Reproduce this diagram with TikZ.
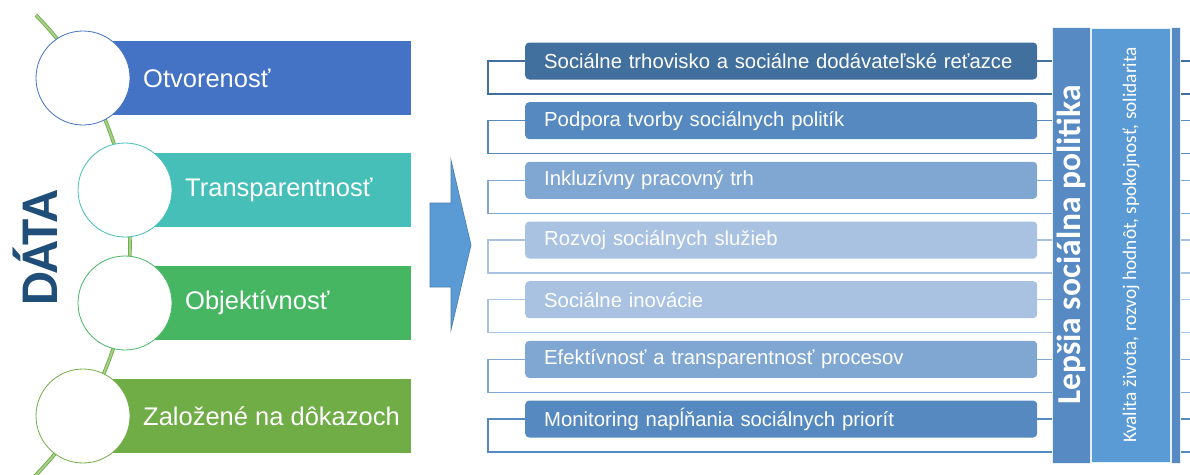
\documentclass[tikz,border=0pt]{standalone}
\usepackage{fontspec}
\setmainfont{Liberation Sans}
\newfontfamily\calibri{Carlito}
\definecolor{barblue}{HTML}{4472C4}
\definecolor{barteal}{HTML}{45BFB8}
\definecolor{bargreen}{HTML}{47B663}
\definecolor{barolive}{HTML}{70AD47}
\definecolor{datablue}{HTML}{1F4E79}
\definecolor{arrowblue}{HTML}{5B9BD5}
\definecolor{tone1}{HTML}{42709E}
\definecolor{tone2}{HTML}{5589BF}
\definecolor{tone3}{HTML}{80A6D2}
\definecolor{tone4}{HTML}{A9C2E2}
\definecolor{panelblue}{HTML}{5789C2}
\definecolor{wavegreen}{HTML}{A9D18E}
\tikzset{
  bar/.style={anchor=west, minimum height=74pt, inner sep=0pt},
  dot/.style={circle, fill=white, minimum size=94pt, inner sep=0pt, line width=0.8pt},
  bartext/.style={anchor=west, text=white, inner sep=0pt, font=\fontsize{25.5}{30}\selectfont},
  item/.style={rounded corners=4pt, anchor=west, minimum height=37pt, text width=474pt,
    inner xsep=19pt, align=left, text=white, font=\fontsize{20.3}{24}\selectfont},
  panel/.style={rotate=90, draw=white!85!arrowblue, line width=0.8pt, inner sep=0pt, text=white},
}
\begin{document}
\begin{tikzpicture}[x=1pt, y=-1pt]
\useasboundingbox (0,0) rectangle (1190,474);

\draw[line width=0.9pt, barolive, double=wavegreen, double distance=1.8pt]
  (-198,245) ++(-44.5:328) arc[start angle=-44.5, end angle=46, radius=328];

\foreach \n/\cx/\cy/\c/\t in {1/83/78/barblue/Otvorenosť, 2/125/190/barteal/Transparentnosť,
  3/125/303/bargreen/Objektívnosť, 4/83/416/barolive/Založené na dôkazoch} {
  \node[bar, fill=\c, minimum width={(411-\cx)*1pt}] (bar\n) at (\cx,\cy) {};
  \node[dot, draw=\c] (dot\n) at (\cx,\cy) {};
  \node[bartext] (lab\n) at (\cx+60,\cy) {\t};
}

\node[rotate=90, text=datablue, font=\calibri\bfseries\fontsize{53}{60}\selectfont] (data) at (35,248) {DÁTA};

\filldraw[fill=arrowblue, draw=arrowblue!80!black, line width=0.6pt]
  (430,203) -- (451,203) -- (451,160) -- (471,245) -- (451,330) -- (451,287) -- (430,287) -- cycle;

\foreach \i/\c/\t in {0/tone1/Sociálne trhovisko a sociálne dodávateľské reťazce,
  1/tone2/Podpora tvorby sociálnych politík, 2/tone3/Inkluzívny pracovný trh,
  3/tone4/Rozvoj sociálnych služieb, 4/tone4/Sociálne inovácie,
  5/tone3/Efektívnosť a transparentnosť procesov, 6/tone2/Monitoring napĺňania sociálnych priorít} {
  \node[item, fill=\c] (box\i) at (525,61+59.67*\i) {\t};
  \coordinate (low\i) at (1190,94+59.67*\i);
  \coordinate (end\i) at (1190,61+59.67*\i);
  \draw[\c, line width=1.2pt] (box\i.west) -- ++(-37,0) |- (low\i);
  \draw[\c, line width=1.2pt] (box\i.east) -- (end\i);
}

\node[panel, fill=panelblue, minimum width=436pt, minimum height=38pt,
  font=\calibri\bfseries\fontsize{33.5}{38}\selectfont] (goal) at (1071,245) {Lepšia sociálna politika};
\node[panel, fill=arrowblue, minimum width=434pt, minimum height=79pt,
  font=\calibri\fontsize{19.3}{22}\selectfont] (values) at (1131,245) {Kvalita života, rozvoj hodnôt, spokojnosť, solidarita};
\node[panel, fill=panelblue, minimum width=436pt, minimum height=9pt] (strip) at (1175.5,245) {};
\end{tikzpicture}
\end{document}
